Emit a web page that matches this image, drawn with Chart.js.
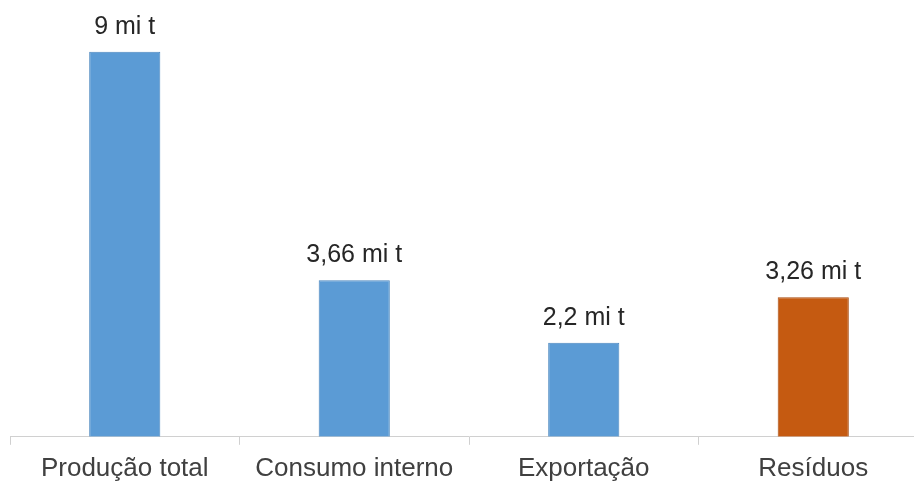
<!DOCTYPE html>
<html>
<head>
<meta charset="utf-8">
<script src="https://cdn.jsdelivr.net/npm/chart.js@4"></script>
<style>
  html, body { margin: 0; padding: 0; background: #fff; overflow: hidden; }
  #wrap { width: 928px; height: 492px; }
</style>
</head>
<body>
<div id="wrap"><canvas id="chart"></canvas></div>
<script>
const categories = ["Produção total", "Consumo interno", "Exportação", "Resíduos"];
const values = [9, 3.66, 2.2, 3.26];
const valueLabels = ["9 mi t", "3,66 mi t", "2,2 mi t", "3,26 mi t"];
const barColors = ["#5B9BD5", "#5B9BD5", "#5B9BD5", "#C55A11"];
const borderColors = ["#4A86BE", "#4A86BE", "#4A86BE", "#A84A0C"];

// draws the text above each bar
const valueLabelPlugin = {
  id: "valueLabels",
  afterDatasetsDraw(chart) {
    const ctx = chart.ctx;
    const meta = chart.getDatasetMeta(0);
    ctx.save();
    ctx.font = "25px 'Liberation Sans', Arial, sans-serif";
    ctx.fillStyle = "#262626";
    ctx.textAlign = "center";
    ctx.textBaseline = "alphabetic";
    meta.data.forEach((bar, i) => {
      ctx.fillText(valueLabels[i], bar.x, bar.y - 18);
    });
    ctx.restore();
  }
};

new Chart(document.getElementById("chart"), {
  type: "bar",
  data: {
    labels: categories,
    datasets: [{
      data: values,
      backgroundColor: barColors,
      borderColor: borderColors,
      borderWidth: 1,
      categoryPercentage: 1,
      barPercentage: 0.31
    }]
  },
  options: {
    responsive: true,
    maintainAspectRatio: false,
    animation: false,
    layout: { padding: { top: 9, left: 10, right: 0, bottom: 0 } },
    plugins: {
      legend: { display: false },
      tooltip: { enabled: false }
    },
    scales: {
      y: {
        display: false,
        min: 0,
        max: 10
      },
      x: {
        grid: {
          drawOnChartArea: false,
          color: "#d0d0d0",
          tickLength: 8,
          offset: true
        },
        border: { color: "#d0d0d0", width: 1 },
        ticks: {
          color: "#404040",
          padding: 8,
          font: { family: "'Liberation Sans', Arial, sans-serif", size: 26 }
        }
      }
    }
  },
  plugins: [valueLabelPlugin]
});
</script>
</body>
</html>
